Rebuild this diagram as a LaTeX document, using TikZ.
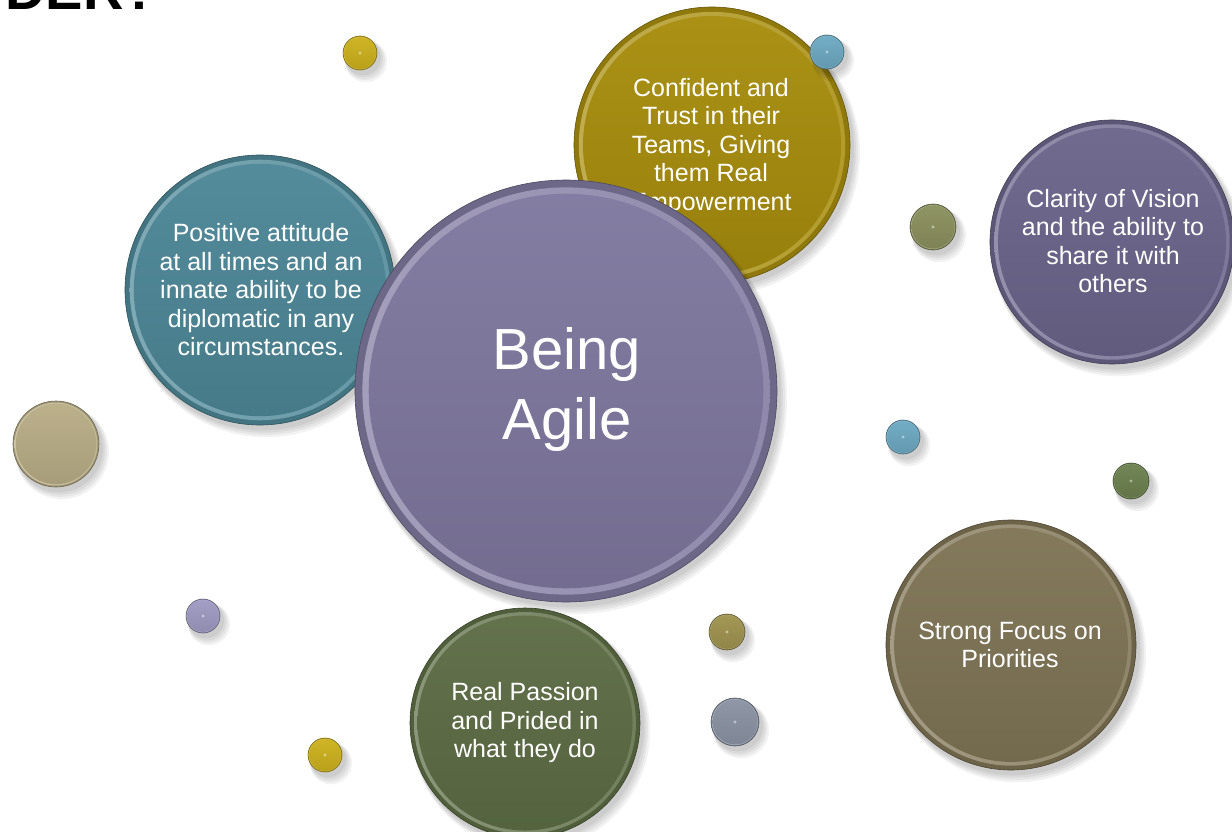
\documentclass[tikz,border=0pt]{standalone}
\usepackage{fontspec}
\setmainfont{Liberation Sans}
\definecolor{cteal}{RGB}{78,136,152}
\definecolor{cgold}{RGB}{168,142,14}
\definecolor{cpurp}{RGB}{128,121,160}
\definecolor{cclar}{RGB}{108,102,140}
\definecolor{cfocus}{RGB}{128,117,86}
\definecolor{cpass}{RGB}{94,110,70}
\definecolor{syel}{RGB}{205,178,30}
\definecolor{sblue}{RGB}{110,170,195}
\definecolor{solive}{RGB}{140,145,95}
\definecolor{stan}{RGB}{185,174,135}
\definecolor{sgreen}{RGB}{110,130,80}
\definecolor{slav}{RGB}{160,155,195}
\definecolor{sbrass}{RGB}{160,148,80}
\definecolor{sgray}{RGB}{140,148,165}
\tikzset{
  btxt/.style={text=white, align=center, font=\fontsize{25}{28.5}\selectfont, inner sep=0pt},
  bigtxt/.style={text=white, align=center, font=\fontsize{58}{70}\selectfont, inner sep=0pt},
  ttltxt/.style={text=black, font=\bfseries\fontsize{56}{56}\selectfont, inner sep=0pt, anchor=base east},
}
\newcommand\bub[4]{%
  \pgfmathsetmacro\rA{#3}%
  \pgfmathsetmacro\rB{0.965*#3}%
  \pgfmathsetmacro\rC{0.935*#3}%
  \foreach \k in {1,...,4}{\fill[black,opacity=0.05] ({#1+2+\k},{#2+3+1.3*\k}) circle[radius={(\rA+\k)*1pt}];}
  \fill[#4!85!black] (#1,#2) circle[radius=\rA pt];
  \shade[left color=#4!72!white, right color=#4!88!white] (#1,#2) circle[radius=\rB pt];
  \shade[top color=#4!97!white, bottom color=#4!90!black] (#1,#2) circle[radius=\rC pt];
  \draw[#4!60!black, line width=0.6pt] (#1,#2) circle[radius=\rA pt];
}
\newcommand\bead[4]{%
  \bub{#1}{#2}{#3}{#4}%
  \fill[white,opacity=0.45] (#1,#2) circle[radius=1.6pt];
}
\begin{document}
\begin{tikzpicture}[x=1pt,y=-1pt]
\useasboundingbox (0,0) rectangle (1232,832);
\fill[white] (0,0) rectangle (1232,832);
\node[ttltxt] (ttl) at (158,10) {DER?};
% teal
\bub{260}{290}{135}{cteal}
\node[btxt] (pos) at (261,290) {Positive attitude\\at all times and an\\innate ability to be\\diplomatic in any\\circumstances.};
% gold
\bub{712}{145}{138}{cgold}
\node[btxt] (conf) at (711,147) {Confident and\\Trust in their\\Teams, Giving\\them Real\\Empowerment};
% big purple
\bub{566}{391}{211}{cpurp}
\node[bigtxt] (agile) at (567,390) {Being\\Agile};
% clarity
\bub{1112}{242}{122}{cclar}
\node[btxt] (clar) at (1113,241) {Clarity of Vision\\and the ability to\\share it with\\others};
% focus
\bub{1011}{645}{125}{cfocus}
\node[btxt] (focus) at (1010,645) {Strong Focus on\\Priorities};
% passion
\bub{525}{723}{115}{cpass}
\node[btxt] (pass) at (525,723) {Real Passion\\and Prided in\\what they do};
% small beads
\bead{360}{53}{17}{syel}
\bead{827}{52}{17}{sblue}
\bead{933}{227}{23}{solive}
\bub{56}{444}{43}{stan}
\bead{903}{437}{17}{sblue}
\bead{1131}{481}{18}{sgreen}
\bead{203}{616}{17}{slav}
\bead{727}{632}{18}{sbrass}
\bead{735}{722}{24}{sgray}
\bead{325}{755}{17}{syel}
\end{tikzpicture}
\end{document}
